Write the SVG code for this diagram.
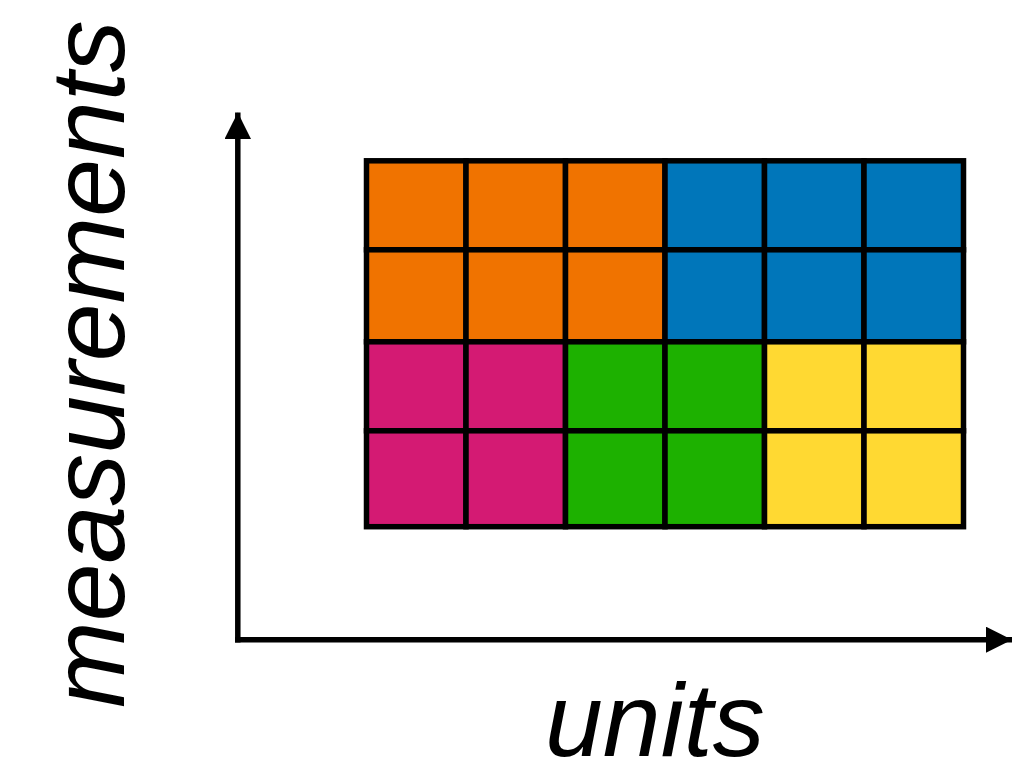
<svg xmlns="http://www.w3.org/2000/svg" width="1035" height="771" viewBox="0 0 1035 771">
<style>
.c{stroke:#000;stroke-width:5.5}
.o{fill:#F07300}.b{fill:#0076BA}.m{fill:#D41A73}.g{fill:#1DB100}.y{fill:#FFD932}
.ax{stroke:#000;stroke-width:5.5;fill:none}
.lbl{font-family:"Liberation Sans",Arial,sans-serif;font-style:italic;fill:#000}
</style>
<defs>
<marker id="ah" viewBox="0 0 10 10" refX="10" refY="5" markerWidth="4.8" markerHeight="4.8" markerUnits="strokeWidth" orient="auto">
<path d="M0,0 L10,5 L0,10 Z" fill="#000"/>
</marker>
</defs>
<rect width="1035" height="771" fill="#fff"/>
<g id="grid">
<rect class="c o" x="366.5" y="160.8" width="99.5" height="89"/>
<rect class="c o" x="466" y="160.8" width="99.5" height="89"/>
<rect class="c o" x="565.5" y="160.8" width="99.5" height="89"/>
<rect class="c b" x="665" y="160.8" width="99.5" height="89"/>
<rect class="c b" x="764.5" y="160.8" width="99.5" height="89"/>
<rect class="c b" x="864" y="160.8" width="99.5" height="89"/>
<rect class="c o" x="366.5" y="249.8" width="99.5" height="92"/>
<rect class="c o" x="466" y="249.8" width="99.5" height="92"/>
<rect class="c o" x="565.5" y="249.8" width="99.5" height="92"/>
<rect class="c b" x="665" y="249.8" width="99.5" height="92"/>
<rect class="c b" x="764.5" y="249.8" width="99.5" height="92"/>
<rect class="c b" x="864" y="249.8" width="99.5" height="92"/>
<rect class="c m" x="366.5" y="341.8" width="99.5" height="89"/>
<rect class="c m" x="466" y="341.8" width="99.5" height="89"/>
<rect class="c g" x="565.5" y="341.8" width="99.5" height="89"/>
<rect class="c g" x="665" y="341.8" width="99.5" height="89"/>
<rect class="c y" x="764.5" y="341.8" width="99.5" height="89"/>
<rect class="c y" x="864" y="341.8" width="99.5" height="89"/>
<rect class="c m" x="366.5" y="430.8" width="99.5" height="95.9"/>
<rect class="c m" x="466" y="430.8" width="99.5" height="95.9"/>
<rect class="c g" x="565.5" y="430.8" width="99.5" height="95.9"/>
<rect class="c g" x="665" y="430.8" width="99.5" height="95.9"/>
<rect class="c y" x="764.5" y="430.8" width="99.5" height="95.9"/>
<rect class="c y" x="864" y="430.8" width="99.5" height="95.9"/>
</g>
<g id="connectors">
<path class="ax" d="M237.8,642.5 V112.5" marker-end="url(#ah)"/>
<path class="ax" d="M235,639.7 H1012" marker-end="url(#ah)"/>
</g>
<g id="label-y"><text class="lbl" font-size="104" transform="translate(124,708) rotate(-90)">measurements</text></g>
<g id="label-x"><text class="lbl" font-size="104" x="545" y="756">units</text></g>
</svg>
